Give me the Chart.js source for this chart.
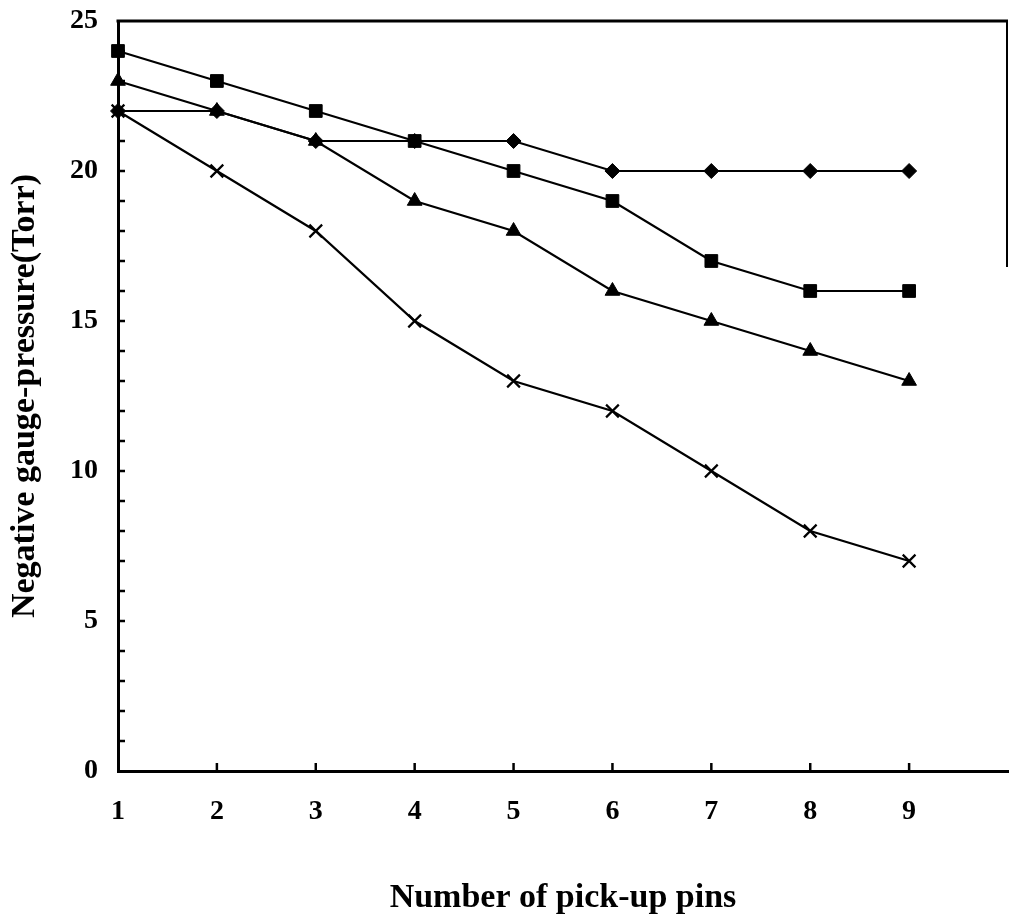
<!DOCTYPE html>
<html>
<head>
<meta charset="utf-8">
<script src="https://cdn.jsdelivr.net/npm/chart.js@4/dist/chart.umd.min.js"></script>
<style>
  html, body { margin: 0; padding: 0; background: #fff; }
  #wrap { width: 1009px; height: 923px; }
</style>
</head>
<body>
<div id="wrap"><canvas id="pressureChart"></canvas></div>
<script>
const pins = [1, 2, 3, 4, 5, 6, 7, 8, 9];
const diamondVals  = [22, 22, 21, 21, 21, 20, 20, 20, 20];
const squareVals   = [24, 23, 22, 21, 20, 19, 17, 16, 16];
const triangleVals = [23, 22, 21, 19, 18, 16, 15, 14, 13];
const crossVals    = [22, 20, 18, 15, 13, 12, 10, 8, 7];
const xTickLabels = ['1', '2', '3', '4', '5', '6', '7', '8', '9'];
const yTickLabels = ['0', '5', '10', '15', '20', '25'];

const serif = "'Liberation Serif', 'Times New Roman', serif";

function series(vals, style, radius) {
  return {
    data: pins.map((x, i) => ({ x: x, y: vals[i] })),
    borderColor: '#000',
    backgroundColor: '#000',
    borderWidth: 2.2,
    pointStyle: style,
    pointRadius: radius,
    pointBorderWidth: style === 'crossRot' ? 2.2 : 1,
    pointBorderColor: '#000',
    pointBackgroundColor: '#000',
    tension: 0,
    clip: false
  };
}

// frame lines and inward tick marks
const framePlugin = {
  id: 'frame',
  afterDraw(chart) {
    const { ctx, chartArea: a, scales } = chart;
    ctx.save();
    ctx.strokeStyle = '#000';
    ctx.lineCap = 'butt';
    // top border
    ctx.lineWidth = 3;
    ctx.beginPath();
    ctx.moveTo(a.left - 1.5, a.top);
    ctx.lineTo(a.right, a.top);
    ctx.stroke();
    // right border (only upper part visible in the original)
    ctx.lineWidth = 2;
    ctx.beginPath();
    ctx.moveTo(a.right - 1, a.top);
    ctx.lineTo(a.right - 1, scales.y.getPixelForValue(16.8));
    ctx.stroke();
    // y ticks, every unit
    ctx.lineWidth = 2.5;
    for (let v = 1; v < 25; v++) {
      const py = scales.y.getPixelForValue(v);
      ctx.beginPath();
      ctx.moveTo(a.left, py);
      ctx.lineTo(a.left + 7, py);
      ctx.stroke();
    }
    // x ticks
    for (let v = 2; v <= 9; v++) {
      const px = scales.x.getPixelForValue(v);
      ctx.beginPath();
      ctx.moveTo(px, a.bottom);
      ctx.lineTo(px, a.bottom - 8);
      ctx.stroke();
    }
    ctx.restore();
  }
};

new Chart(document.getElementById('pressureChart'), {
  type: 'line',
  data: {
    datasets: [
      series(diamondVals, 'rectRot', 7.5),
      series(squareVals, 'rect', 9),
      series(triangleVals, 'triangle', 8.5),
      series(crossVals, 'crossRot', 9)
    ]
  },
  options: {
    responsive: true,
    maintainAspectRatio: false,
    animation: false,
    layout: { autoPadding: false, padding: { top: 21, right: 1, left: 0, bottom: 0 } },
    plugins: { legend: { display: false }, tooltip: { enabled: false } },
    scales: {
      x: {
        type: 'linear',
        min: 1,
        max: 10,
        afterBuildTicks: s => { s.ticks = s.ticks.filter(t => t.value <= 9); },
        afterFit: s => { s.height = 152; s.paddingLeft = 0; s.paddingRight = 0; },
        grid: { display: false, drawTicks: false },
        border: { display: true, color: '#000', width: 3 },
        ticks: {
          stepSize: 1,
          padding: 24,
          color: '#000',
          font: { family: serif, size: 28, weight: 'bold' },
          callback: v => xTickLabels[v - 1] || ''
        },
        title: {
          display: true,
          text: 'Number of pick-up pins',
          color: '#000',
          font: { family: serif, size: 34, weight: 'bold' },
          padding: { top: 0, bottom: 4 }
        }
      },
      y: {
        min: 0,
        max: 25,
        afterFit: s => { s.width = 118; s.paddingTop = 0; s.paddingBottom = 0; },
        grid: { display: false, drawTicks: false },
        border: { display: true, color: '#000', width: 3 },
        ticks: {
          stepSize: 5,
          padding: 20,
          color: '#000',
          font: { family: serif, size: 28, weight: 'bold' },
          callback: v => yTickLabels[v / 5]
        },
        title: {
          display: true,
          text: 'Negative gauge-pressure(Torr)',
          color: '#000',
          font: { family: serif, size: 34, weight: 'bold' },
          padding: { top: 5, bottom: 0 }
        }
      }
    }
  },
  plugins: [framePlugin]
});
</script>
</body>
</html>
